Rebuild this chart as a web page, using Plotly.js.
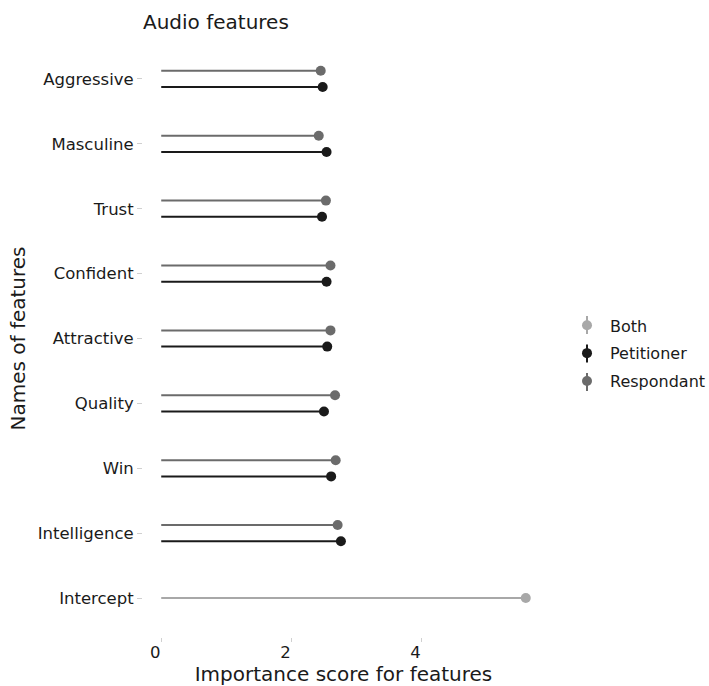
<!DOCTYPE html>
<html>
<head>
<meta charset="utf-8">
<script src="https://cdn.plot.ly/plotly-3.0.1.min.js"></script>
<style>html,body{margin:0;padding:0;background:#fff;}#chart{width:709px;height:686px;}</style>
</head>
<body>
<div id="chart"></div>
<script>
// Categories, top to bottom
const features = ['Aggressive','Masculine','Trust','Confident','Attractive','Quality','Win','Intelligence','Intercept'];
// Series values (importance scores)
const petitionerFeatures = ['Aggressive','Masculine','Trust','Confident','Attractive','Quality','Win','Intelligence'];
const petitionerValues   = [2.48, 2.54, 2.47, 2.54, 2.55, 2.50, 2.61, 2.76];
const respondantFeatures = ['Aggressive','Masculine','Trust','Confident','Attractive','Quality','Win','Intelligence'];
const respondantValues   = [2.45, 2.42, 2.53, 2.60, 2.60, 2.67, 2.68, 2.71];
const bothFeatures = ['Intercept'];
const bothValues   = [5.6];
const xTickVals = [0, 2, 4];
const xTickText = ['0', '2', '4'];
const legendNames = ['Both', 'Petitioner', 'Respondant'];

const nCat = features.length;
const pos = f => nCat - features.indexOf(f);
const dodge = 0.125;

const colors = {Both:'#a8a8a8', Petitioner:'#1a1a1a', Respondant:'#6b6b6b'};

function lollipop(name, feats, vals, offset) {
  return {
    type: 'scatter', mode: 'markers', name: name,
    x: vals, y: feats.map(f => pos(f) + offset),
    marker: {color: colors[name], size: 10},
    error_x: {type:'data', symmetric:false, array: vals.map(() => 0), arrayminus: vals,
              width: 0, thickness: 2, color: colors[name]},
    legendgroup: name, cliponaxis: false, hoverinfo: 'x+y+name'
  };
}

const traces = [
  lollipop('Both', bothFeatures, bothValues, 0),
  lollipop('Petitioner', petitionerFeatures, petitionerValues, -dodge),
  lollipop('Respondant', respondantFeatures, respondantValues, dodge)
];

// legend key vertical strokes (ggplot pointrange-style keys), in paper coords
const plotL = 143, plotW = 401, plotT = 40, plotH = 597;
const legendKeyX = (587 - plotL) / plotW;
const legendKeyY = [325, 353.5, 382];
const legendShapes = legendNames.map((n, i) => ({
  type: 'line', xref: 'paper', yref: 'paper', layer: 'above',
  x0: legendKeyX, x1: legendKeyX,
  y0: (plotT + plotH - (legendKeyY[i] - 9)) / plotH, y1: (plotT + plotH - (legendKeyY[i] + 9)) / plotH,
  line: {color: colors[n], width: 2}
}));

const font = "'DejaVu Sans', sans-serif";
const layout = {
  width: 709, height: 686,
  margin: {l: 143, r: 165, t: 40, b: 49, autoexpand: false},
  paper_bgcolor: '#fff', plot_bgcolor: '#fff',
  font: {family: font, size: 16, color: '#1a1a1a'},
  title: {text: 'Audio features', x: 0, xref: 'paper', xanchor: 'left', y: 0.968, yanchor: 'middle',
          font: {family: font, size: 20, color: '#1a1a1a'}},
  xaxis: {range: [-0.28, 5.88], tickvals: xTickVals, ticktext: xTickText, showgrid: false, zeroline: false,
          showline: false, ticks: 'outside', ticklen: 4, tickcolor: '#d0d0d0', tickwidth: 1,
          ticklabelstandoff: -4, ticklabelshift: -6, automargin: false,
          tickfont: {size: 16.5, color: '#1a1a1a'},
          title: {text: 'Importance score for features', font: {size: 20, color: '#1a1a1a'}, standoff: 6}},
  yaxis: {range: [0.4, nCat + 0.6], tickvals: features.map(pos), ticktext: features, showgrid: false,
          zeroline: false, showline: false, ticks: 'outside', ticklen: 5, tickcolor: '#d0d0d0', tickwidth: 1,
          automargin: false,
          tickfont: {size: 16.5, color: '#1a1a1a'},
          title: {text: 'Names of features', font: {size: 20, color: '#1a1a1a'}, standoff: 6}},
  legend: {x: 1.0499, xanchor: 'left', y: 0.475, yanchor: 'middle', traceorder: 'grouped', tracegroupgap: 4,
           itemwidth: 36,
           font: {size: 16, color: '#1a1a1a'}, bgcolor: 'rgba(0,0,0,0)'},
  shapes: legendShapes,
  showlegend: true
};

Plotly.newPlot('chart', traces, layout, {displayModeBar: false, staticPlot: true});
</script>
</body>
</html>
